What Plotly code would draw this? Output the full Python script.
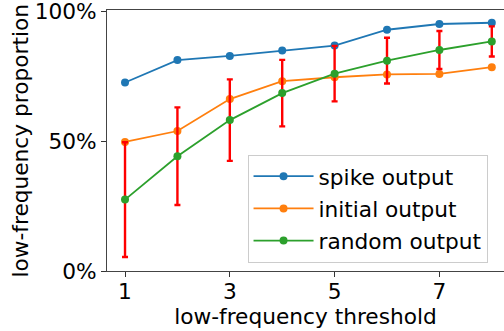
import plotly.graph_objects as go

thresholds = [1, 2, 3, 4, 5, 6, 7, 8]
spike_output = [0.726, 0.812, 0.828, 0.849, 0.868, 0.929, 0.951, 0.956]
initial_output = [0.497, 0.539, 0.662, 0.731, 0.746, 0.757, 0.759, 0.785]
random_output = [0.275, 0.442, 0.581, 0.685, 0.760, 0.810, 0.851, 0.884]
random_err = [0.221, 0.188, 0.157, 0.128, 0.107, 0.088, 0.073, 0.058]

x_ticks = [1, 3, 5, 7]
y_ticks = [0, 0.5, 1.0]
y_ticklabels = ["0%", "50%", "100%"]

FONT = "DejaVu Sans"
FS = 21.7
fig = go.Figure()

fig.add_trace(go.Scatter(
    x=thresholds, y=spike_output, name="spike output", mode="lines+markers",
    line=dict(color="#1f77b4", width=1.8), marker=dict(size=8, color="#1f77b4"),
    legendgroup="a"))
fig.add_trace(go.Scatter(
    x=thresholds, y=initial_output, name="initial output", mode="lines+markers",
    line=dict(color="#ff7f0e", width=1.8), marker=dict(size=8, color="#ff7f0e"),
    legendgroup="b"))
fig.add_trace(go.Scatter(
    x=thresholds, y=random_output, name="random output", mode="lines+markers",
    line=dict(color="#2ca02c", width=1.8), marker=dict(size=8, color="#2ca02c"),
    error_y=dict(type="data", array=random_err, visible=True, color="red",
                 thickness=2.4, width=3),
    legendgroup="c"))

fig.update_layout(
    width=504, height=331,
    margin=dict(l=107, r=0, t=10, b=60),
    plot_bgcolor="white", paper_bgcolor="white",
    font=dict(family=FONT, size=FS, color="black"),
    showlegend=True,
    legend=dict(
        x=0.354, y=0.446, xanchor="left", yanchor="top",
        bgcolor="rgba(255,255,255,0.8)", bordercolor="#cccccc", borderwidth=1,
        font=dict(family=FONT, size=FS), tracegroupgap=1, itemwidth=60,
        traceorder="grouped",
    ),
    xaxis=dict(
        range=[0.656, 8.233], tickvals=x_ticks, ticks="outside", ticklen=5,
        tickwidth=1, tickcolor="#333", showline=True, linecolor="#444",
        linewidth=1, mirror=True, showgrid=False, zeroline=False,
        ticklabelstandoff=-4,
        title=dict(text="low-frequency threshold", standoff=4,
                   font=dict(family=FONT, size=FS)),
    ),
    yaxis=dict(
        range=[0, 1.005], tickvals=y_ticks, ticktext=y_ticklabels,
        ticks="outside", ticklen=5, tickwidth=1, tickcolor="#333",
        showline=True, linecolor="#444", linewidth=1, mirror=False,
        showgrid=False, zeroline=False, ticklabeloverflow="allow",
    ),
    annotations=[dict(
        text="low-frequency proportion", textangle=-90,
        xref="paper", yref="paper", x=-0.219, y=0.5,
        xanchor="center", yanchor="middle", showarrow=False,
        font=dict(family=FONT, size=FS),
    )],
)

fig.write_html("out.html")
